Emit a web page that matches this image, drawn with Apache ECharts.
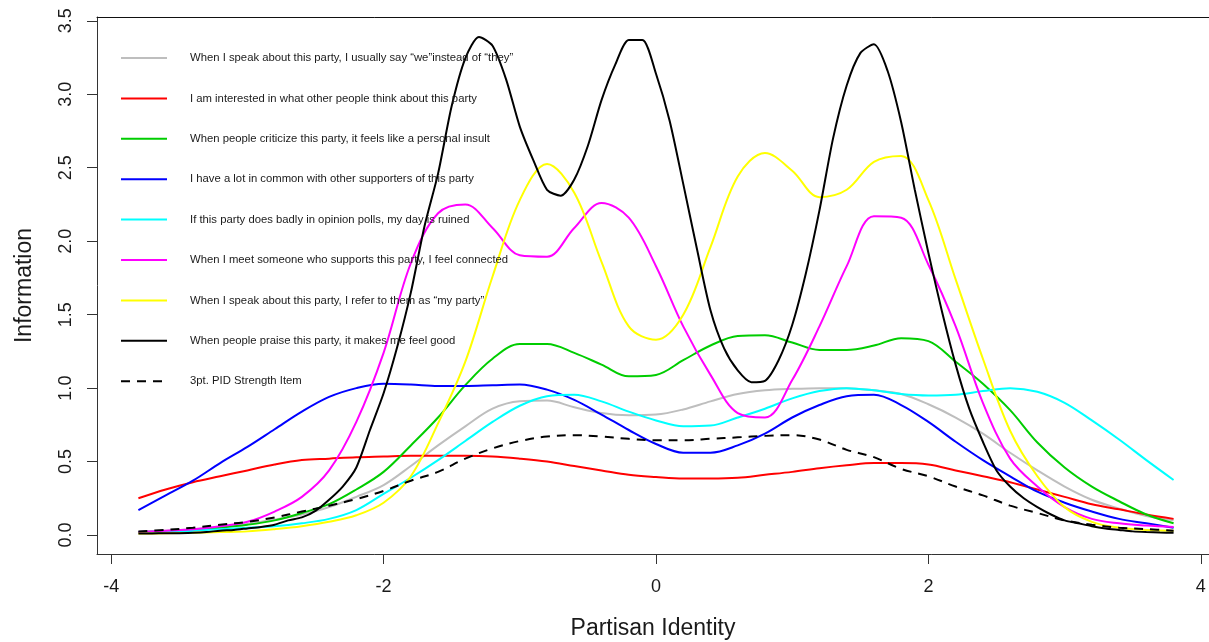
<!DOCTYPE html>
<html>
<head>
<meta charset="utf-8">
<script src="https://cdn.jsdelivr.net/npm/echarts@6/dist/echarts.min.js"></script>
<style>
  html, body { margin: 0; padding: 0; background: #fff; }
  #infoChart { width: 1209px; height: 642px; }
</style>
</head>
<body>
<div id="infoChart"></div>
<script>
// theta points
var xs = [-3.8, -3.6, -3.4, -3.2, -3.0, -2.8, -2.6, -2.4, -2.2, -2.0,
          -1.8, -1.6, -1.4, -1.2, -1.0, -0.8, -0.6, -0.4, -0.2, 0,
          0.2, 0.4, 0.6, 0.8, 1.0, 1.2, 1.4, 1.6, 1.8, 2.0,
          2.2, 2.4, 2.6, 2.8, 3.0, 3.2, 3.4, 3.6, 3.8]

// the black curve is sharper, read at a finer step
var praiseXs = [-3.8, -3.7, -3.6, -3.5, -3.4, -3.3, -3.2, -3.1, -3.0, -2.9,
                -2.8, -2.7, -2.6, -2.5, -2.4, -2.3, -2.2, -2.1, -2.0, -1.9,
                -1.8, -1.7, -1.6, -1.5, -1.4, -1.3, -1.2, -1.1, -1.0, -0.9,
                -0.8, -0.7, -0.6, -0.5, -0.4, -0.3, -0.2, -0.1, 0, 0.1,
                0.2, 0.3, 0.4, 0.5, 0.6, 0.7, 0.8, 0.9, 1.0, 1.1,
                1.2, 1.3, 1.4, 1.5, 1.6, 1.7, 1.8, 1.9, 2.0, 2.1,
                2.2, 2.3, 2.4, 2.5, 2.6, 2.7, 2.8, 2.9, 3.0, 3.1,
                3.2, 3.3, 3.4, 3.5, 3.6, 3.7, 3.8]

var xTicks = [-4, -2, 0, 2, 4]
var yTicks = [0, 0.5, 1.0, 1.5, 2.0, 2.5, 3.0, 3.5]

var itemNames = [
    'When I speak about this party, I usually say \u201cwe\u201dinstead of \u201cthey\u201d',
    'I am interested in what other people think about this party',
    'When people criticize this party, it feels like a personal insult',
    'I have a lot in common with other supporters of this party',
    'If this party does badly in opinion polls, my day is ruined',
    'When I meet someone who supports this party, I feel connected',
    'When I speak about this party, I refer to them as \u201cmy party\u201d',
    'When people praise this party, it makes me feel good',
    '3pt. PID Strength Item'
]

// item information curves
var weThey = [0.02, 0.03, 0.04, 0.055, 0.075, 0.105, 0.14, 0.19, 0.26, 0.34,
              0.47, 0.61, 0.74, 0.86, 0.91, 0.915, 0.87, 0.83, 0.815, 0.82,
              0.855, 0.91, 0.96, 0.985, 0.995, 1.0, 1.0, 0.985, 0.96, 0.89,
              0.80, 0.69, 0.56, 0.44, 0.33, 0.24, 0.18, 0.13, 0.10]
var interested = [0.25, 0.31, 0.36, 0.40, 0.44, 0.48, 0.51, 0.52, 0.53, 0.535,
                  0.54, 0.54, 0.54, 0.535, 0.52, 0.50, 0.47, 0.44, 0.41, 0.395,
                  0.385, 0.385, 0.39, 0.41, 0.43, 0.455, 0.475, 0.49, 0.49, 0.48,
                  0.44, 0.40, 0.36, 0.31, 0.26, 0.21, 0.175, 0.14, 0.11]
var criticize = [0.02, 0.025, 0.035, 0.05, 0.07, 0.10, 0.15, 0.21, 0.31, 0.43,
                 0.61, 0.80, 1.02, 1.20, 1.30, 1.30, 1.24, 1.16, 1.08, 1.09,
                 1.19, 1.29, 1.355, 1.36, 1.31, 1.26, 1.26, 1.29, 1.34, 1.32,
                 1.18, 1.03, 0.85, 0.63, 0.46, 0.33, 0.23, 0.14, 0.08]
var common = [0.17, 0.27, 0.37, 0.49, 0.60, 0.72, 0.84, 0.94, 1.00, 1.03,
              1.025, 1.015, 1.015, 1.02, 1.025, 0.99, 0.92, 0.82, 0.715, 0.62,
              0.56, 0.56, 0.61, 0.69, 0.80, 0.885, 0.945, 0.955, 0.885, 0.77,
              0.635, 0.51, 0.40, 0.295, 0.22, 0.16, 0.11, 0.08, 0.05]
var polls = [0.02, 0.025, 0.03, 0.04, 0.05, 0.06, 0.08, 0.11, 0.17, 0.28,
             0.39, 0.51, 0.64, 0.77, 0.88, 0.945, 0.955, 0.91, 0.84, 0.78,
             0.74, 0.745, 0.80, 0.86, 0.93, 0.98, 1.0, 0.985, 0.96, 0.95,
             0.955, 0.98, 1.0, 0.975, 0.90, 0.78, 0.65, 0.51, 0.375]
var connected = [0.02, 0.03, 0.04, 0.06, 0.09, 0.16, 0.26, 0.44, 0.77, 1.24,
                 1.85, 2.19, 2.25, 2.09, 1.905, 1.895, 2.09, 2.26, 2.16, 1.83,
                 1.42, 1.09, 0.83, 0.80, 1.055, 1.42, 1.83, 2.17, 2.16, 1.84,
                 1.42, 0.90, 0.52, 0.33, 0.19, 0.11, 0.08, 0.065, 0.055]
var myParty = [0.01, 0.012, 0.015, 0.02, 0.025, 0.04, 0.06, 0.09, 0.135, 0.22,
               0.40, 0.76, 1.18, 1.76, 2.28, 2.525, 2.33, 1.86, 1.42, 1.33,
               1.50, 1.96, 2.44, 2.60, 2.48, 2.30, 2.35, 2.54, 2.58, 2.28,
               1.74, 1.20, 0.71, 0.40, 0.19, 0.09, 0.05, 0.035, 0.03]
var praise = [0.01, 0.011, 0.012, 0.013, 0.015, 0.02, 0.03, 0.035, 0.045, 0.055,
              0.07, 0.10, 0.12, 0.165, 0.24, 0.33, 0.46, 0.715, 0.965, 1.28,
              1.65, 2.10, 2.46, 2.92, 3.245, 3.39, 3.33, 3.10, 2.78, 2.55,
              2.35, 2.31, 2.42, 2.65, 2.96, 3.20, 3.37, 3.37, 3.14, 2.82,
              2.39, 1.95, 1.53, 1.27, 1.12, 1.04, 1.05, 1.19, 1.43, 1.78,
              2.21, 2.70, 3.06, 3.28, 3.34, 3.16, 2.81, 2.35, 1.92, 1.52,
              1.16, 0.86, 0.635, 0.44, 0.33, 0.25, 0.19, 0.14, 0.10, 0.08,
              0.06, 0.045, 0.035, 0.025, 0.02, 0.017, 0.015]
var pidStrength = [0.025, 0.035, 0.05, 0.07, 0.09, 0.12, 0.16, 0.20, 0.245, 0.30,
                   0.37, 0.43, 0.52, 0.59, 0.64, 0.67, 0.68, 0.67, 0.655, 0.645,
                   0.645, 0.655, 0.665, 0.675, 0.68, 0.65, 0.58, 0.53, 0.45, 0.40,
                   0.33, 0.27, 0.20, 0.15, 0.10, 0.07, 0.05, 0.04, 0.03]

var curves = [weThey, interested, criticize, common, polls, connected, myParty, praise, pidStrength]
var curveXs = [xs, xs, xs, xs, xs, xs, xs, praiseXs, xs]
var colors = ['#bebebe', '#ff0000', '#00cd00', '#0000ff', '#00ffff', '#ff00ff', '#ffff00', '#000000', '#000000']

var dom = document.getElementById('infoChart')
var myChart = echarts.init(dom)

// 曲线
function initSeries() {
    return curves.map(function (ys, i) {
        var dashed = i === curves.length - 1
        var px = curveXs[i]
        return {
            type: 'line',
            name: itemNames[i],
            data: px.map(function (x, k) { return [x, ys[k]] }),
            showSymbol: false,
            symbol: 'none',
            smooth: px === praiseXs ? 0.25 : 0.35,
            color: colors[i],
            lineStyle: {
                color: colors[i],
                width: 2,
                type: dashed ? [9, 7] : 'solid'
            },
            animation: false
        }
    })
}

var font = 'Liberation Sans, Arial, sans-serif'
var xMin = -4.104
var xMax = 4.06

myChart.setOption({
    animation: false,
    textStyle: { fontFamily: font },
    grid: {
        left: 97,
        top: 17,
        right: 0,
        bottom: 88,
        show: false,
        outerBoundsMode: 'none'
    },
    legend: {
        orient: 'vertical',
        left: 120,
        top: 51,
        padding: 0,
        itemWidth: 46,
        itemHeight: 14,
        itemGap: 26.4,
        data: itemNames,
        itemStyle: {
            color: 'rgba(0,0,0,0)',
            borderColor: 'rgba(0,0,0,0)',
            borderWidth: 0
        },
        textStyle: {
            fontSize: 11.3,
            lineHeight: 14,
            color: '#1a1a1a',
            fontFamily: font,
            padding: [0, 0, 0, 18]
        }
    },
    xAxis: [{
        type: 'value',
        min: xMin,
        max: xMax,
        name: 'Partisan Identity',
        nameLocation: 'middle',
        nameGap: 63,
        nameTextStyle: { fontSize: 23, color: '#1a1a1a', fontFamily: font },
        splitLine: { show: false },
        axisLine: { show: true, onZero: false, lineStyle: { color: '#333', width: 1 } },
        axisTick: { show: true, length: 10, customValues: xTicks, lineStyle: { color: '#333' } },
        axisLabel: {
            customValues: xTicks,
            fontSize: 18,
            margin: 24,
            color: '#1a1a1a',
            fontFamily: font
        }
    }, {
        // 上边框
        type: 'value',
        position: 'top',
        min: xMin,
        max: xMax,
        splitLine: { show: false },
        axisLine: { show: true, onZero: false, lineStyle: { color: '#111', width: 1 } },
        axisTick: { show: false },
        axisLabel: { show: false }
    }],
    yAxis: {
        type: 'value',
        min: -0.129,
        max: 3.526,
        name: 'Information',
        nameLocation: 'middle',
        nameGap: 61,
        nameRotate: 90,
        nameTextStyle: { fontSize: 23, color: '#1a1a1a', fontFamily: font },
        splitLine: { show: false },
        axisLine: { show: true, onZero: false, lineStyle: { color: '#333', width: 1 } },
        axisTick: { show: true, length: 10, customValues: yTicks, lineStyle: { color: '#333' } },
        axisLabel: {
            customValues: yTicks,
            rotate: 90,
            fontSize: 18,
            margin: 22,
            color: '#1a1a1a',
            fontFamily: font,
            formatter: function (v) { return v.toFixed(1) }
        }
    },
    series: initSeries()
})
</script>
</body>
</html>
